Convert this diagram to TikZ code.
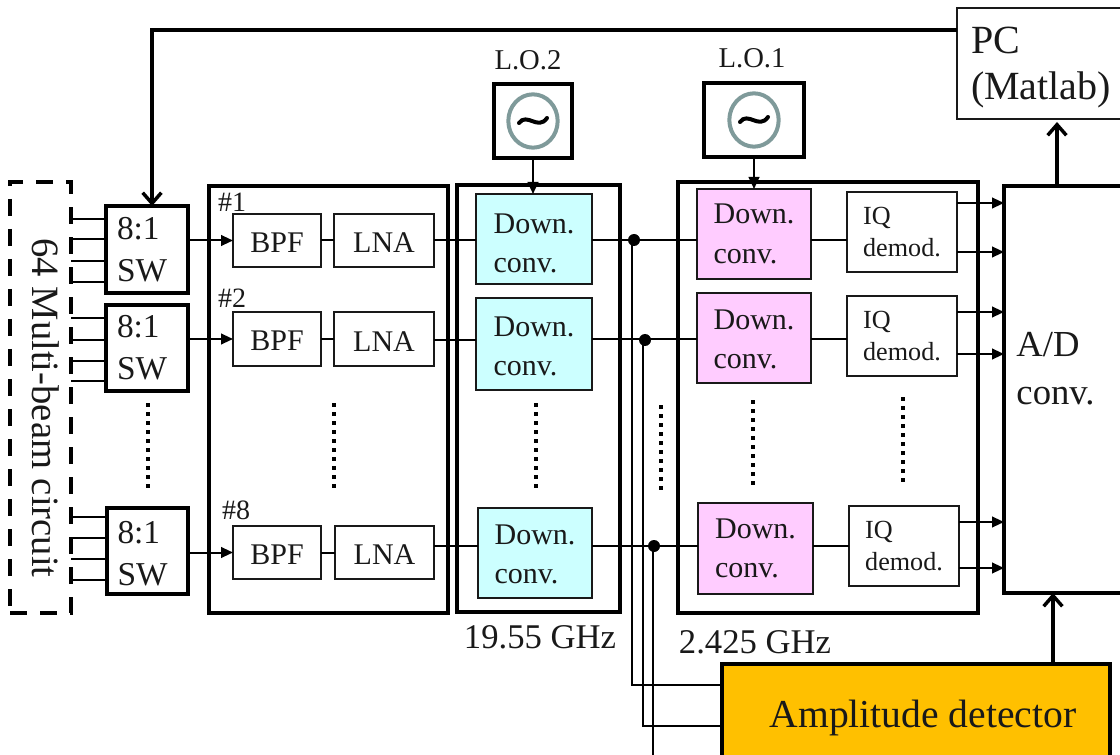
\documentclass[tikz,border=0pt]{standalone}
\usepackage{fontspec}
\setmainfont{Liberation Serif}
\usetikzlibrary{arrows.meta,calc,shapes.geometric}
\definecolor{cvblue}{HTML}{CCFFFF}
\definecolor{cvpink}{HTML}{FFCCFF}
\definecolor{ampfill}{HTML}{FFC000}
\definecolor{osc}{HTML}{7F9A9A}
\newcommand{\fs}[2]{\fontsize{#1}{#2}\selectfont}
\newcommand{\lift}[1]{\rule{0pt}{#1pt}}
\newcommand{\bx}[7]{\node[#6,minimum width={(#4-(#2))*0.75pt},minimum height={(#5-(#3))*0.75pt}] (#1) at ({(#2+#4)/2},{(#3+#5)/2}) {#7};}
\tikzset{
  every node/.style={inner sep=0pt,outer sep=0pt,align=left,text=black!90},
  frame/.style={draw=black,line width=3pt},
  thickbox/.style={draw=black,line width=2.8pt},
  thinbox/.style={draw=black!90,line width=1.5pt},
  swbox/.style={thickbox,font=\fs{25}{31.5}},
  filt/.style={thinbox,font=\fs{22.5}{26}},
  conv/.style={thinbox,font=\fs{22.5}{29.5}},
  iqbox/.style={thinbox,font=\fs{19.6}{23.5}},
  wire/.style={draw=black,line width=1.5pt},
  fwd/.style={wire,-{Triangle[length=9pt,width=8pt]}},
  busline/.style={draw=black,line width=3pt},
  busarrow/.style={busline,-{Straight Barb[length=8pt,width=14pt,line width=2.6pt]}},
  dots/.style={draw=black,line width=3pt,dash pattern=on 3pt off 3.75pt},
  junction/.style={circle,fill=black,minimum size=9pt},
  lab/.style={font=\fs{21.5}{26}},
  tag/.style={font=\fs{21}{26}},
  ghz/.style={font=\fs{26}{30}},
  osccircle/.style={ellipse,draw=osc,line width=3pt},
  tilde/.style={draw=black,line width=3pt,line cap=round},
}
\begin{document}
\begin{tikzpicture}[x=0.75pt,y=-0.75pt]
\useasboundingbox (0,0) rectangle (1120,755);
\clip (0,0) rectangle (1120,755);
% frames
\bx{mb}{10}{182}{71}{613}{draw=black,line width=2.8pt,dash pattern=on 13pt off 9.5pt}{}
\node[rotate=-90,font=\fs{29}{34},anchor=center] (mbtext) at (46,408) {64 Multi-beam circuit};
\bx{fa}{209}{186}{448}{613}{frame}{}
\bx{fb}{457}{185}{620}{612}{frame}{}
\bx{fc}{678}{182}{978}{613}{frame}{}
% switches
\bx{sw1}{106}{206}{188}{293}{swbox}{8:1\\SW\hspace*{7.5pt}}
\bx{sw2}{106}{305}{188}{391}{swbox}{8:1\\SW\hspace*{7.5pt}}
\bx{sw3}{107}{508}{188}{594}{swbox}{\lift{21}8:1\\SW\hspace*{7.5pt}}
% filters and amplifiers
\bx{bpf1}{233}{214}{321}{267}{filt}{\lift{18}BPF}
\bx{lna1}{334}{214}{434}{267}{filt}{\lift{18}LNA}
\bx{bpf2}{233}{312}{321}{366}{filt}{\lift{18}BPF}
\bx{lna2}{334}{312}{434}{366}{filt}{\lift{18}LNA}
\bx{bpf3}{233}{526}{321}{579}{filt}{\lift{18}BPF}
\bx{lna3}{335}{526}{434}{579}{filt}{\lift{18}LNA}
\node[tag] (n1) at (232,202) {\#1};
\node[tag] (n2) at (232,298) {\#2};
\node[tag] (n8) at (236,510) {\#8};
% converters
\bx{bd1}{476}{194}{592}{284}{conv,fill=cvblue}{\lift{21}Down.\\conv.}
\bx{bd2}{476}{298}{592}{390}{conv,fill=cvblue}{\lift{18}Down.\\conv.}
\bx{bd3}{478}{508}{592}{598}{conv,fill=cvblue}{\lift{17}Down.\\conv.}
\bx{pd1}{697}{189}{811}{279}{conv,fill=cvpink}{Down.\\conv.}
\bx{pd2}{697}{293}{811}{383}{conv,fill=cvpink}{\lift{17}Down.\\conv.}
\bx{pd3}{698}{503}{813}{594}{conv,fill=cvpink}{Down.\\conv.}
\bx{iq1}{847}{192}{957}{272}{iqbox}{IQ\\demod.}
\bx{iq2}{847}{296}{957}{376}{iqbox}{IQ\\demod.}
\bx{iq3}{849}{506}{959}{586}{iqbox}{IQ\\demod.}
% right side
\bx{ad}{1004}{186}{1135}{593}{thickbox,font=\fs{27.5}{36}}{A/D\\conv.\hspace*{21pt}\rule[-32pt]{0pt}{0pt}}
\bx{pc}{957}{8}{1125}{119}{thinbox,font=\fs{30}{35}}{\lift{26}PC\\(Matlab)}
\bx{amp}{722}{664}{1110}{772}{draw=black,line width=3pt,fill=ampfill,font=\fs{29.7}{36}}{\hspace*{10.5pt}Amplitude detector}
% oscillators
\bx{lo2}{494}{84}{572}{158}{thickbox}{}
\bx{lo1}{704}{83}{804}{157}{thickbox}{}
\node[osccircle,minimum width=37pt,minimum height=40pt] (c2) at (lo2.center) {};
\node[osccircle,minimum width=37pt,minimum height=40pt] (c1) at (lo1.center) {};
\draw[tilde] ($(c2.center)+(-14,2)$) .. controls ($(c2.center)+(-6,-9)$) and ($(c2.center)+(5,10)$) .. ($(c2.center)+(14,-3)$);
\draw[tilde] ($(c1.center)+(-14,2)$) .. controls ($(c1.center)+(-6,-9)$) and ($(c1.center)+(5,10)$) .. ($(c1.center)+(14,-3)$);
\node[lab] (l2) at (528,60) {L.O.2};
\node[lab] (l1) at (752,58) {L.O.1};
\node[ghz] (g1) at (540,637) {19.55 GHz};
\node[ghz] (g2) at (755,642) {2.425 GHz};
% stubs into the switches
\foreach \yy in {219,239,261,282}{\draw[wire] (mb.east |- 0,\yy) -- (sw1.west |- 0,\yy);}
\foreach \yy in {318,340,361,381}{\draw[wire] (mb.east |- 0,\yy) -- (sw2.west |- 0,\yy);}
\foreach \yy in {517,538,559,580}{\draw[wire] (mb.east |- 0,\yy) -- (sw3.west |- 0,\yy);}
% signal chain
\draw[fwd] (sw1.east |- bpf1.west) -- (bpf1.west);
\draw[fwd] (sw2.east |- bpf2.west) -- (bpf2.west);
\draw[fwd] (sw3.east |- bpf3.west) -- (bpf3.west);
\draw[wire] (bpf1) -- (lna1);
\draw[wire] (bpf2) -- (lna2);
\draw[wire] (bpf3) -- (lna3);
\draw[wire] (lna1.east |- 0,240) -- (bd1.west |- 0,240);
\draw[wire] (lna2.east |- 0,340) -- (bd2.west |- 0,340);
\draw[wire] (lna3.east |- 0,546) -- (bd3.west |- 0,546);
\draw[wire] (bd1.east |- 0,240) -- (pd1.west |- 0,240);
\draw[wire] (bd2.east |- 0,339) -- (pd2.west |- 0,339);
\draw[wire] (bd3.east |- 0,546) -- (pd3.west |- 0,546);
\draw[wire] (pd1.east |- 0,240) -- (iq1.west |- 0,240);
\draw[wire] (pd2.east |- 0,339) -- (iq2.west |- 0,339);
\draw[wire] (pd3.east |- 0,546) -- (iq3.west |- 0,546);
% outputs to the A/D converter
\foreach \src/\yy in {iq1/203,iq1/252,iq2/312,iq2/354,iq3/522,iq3/568}{\draw[fwd] (\src.east |- 0,\yy) -- (ad.west |- 0,\yy);}
% junctions and taps to the detector
\node[junction] (j1) at (634,240) {};
\node[junction] (j2) at (645,340) {};
\node[junction] (j3) at (654,546) {};
\draw[wire] ($(j1.center)+(-2,0)$) |- (amp.west |- 0,685);
\draw[wire] ($(j2.center)+(-2,0)$) |- (amp.west |- 0,726);
\coordinate (j3end) at (653,760);
\draw[wire] (j3end |- j3.center) -- (j3end);
% oscillator feeds
\draw[fwd] (lo2.south) -- (lo2.south |- bd1.north);
\draw[fwd] (lo1.south) -- (lo1.south |- pd1.north);
% control and data buses
\draw[busarrow] (pc.west |- 0,30) -- (152,30) -- (sw1.north -| 152,0);
\draw[busarrow] (ad.north -| 1057,0) -- (1057,122);
\draw[busarrow] (amp.north -| 1053,0) -- (ad.south -| 1053,0);
% continuation dots
\coordinate (d1a) at (148,403); \coordinate (d1b) at (148,490);
\coordinate (d2a) at (334,403); \coordinate (d2b) at (334,490);
\coordinate (d3a) at (536,403); \coordinate (d3b) at (536,492);
\coordinate (d4a) at (661,405); \coordinate (d4b) at (661,494);
\coordinate (d5a) at (753,400); \coordinate (d5b) at (753,490);
\coordinate (d6a) at (903,397); \coordinate (d6b) at (903,485);
\foreach \dd in {1,...,6}{\draw[dots] (d\dd a) -- (d\dd b);}
\end{tikzpicture}
\end{document}
